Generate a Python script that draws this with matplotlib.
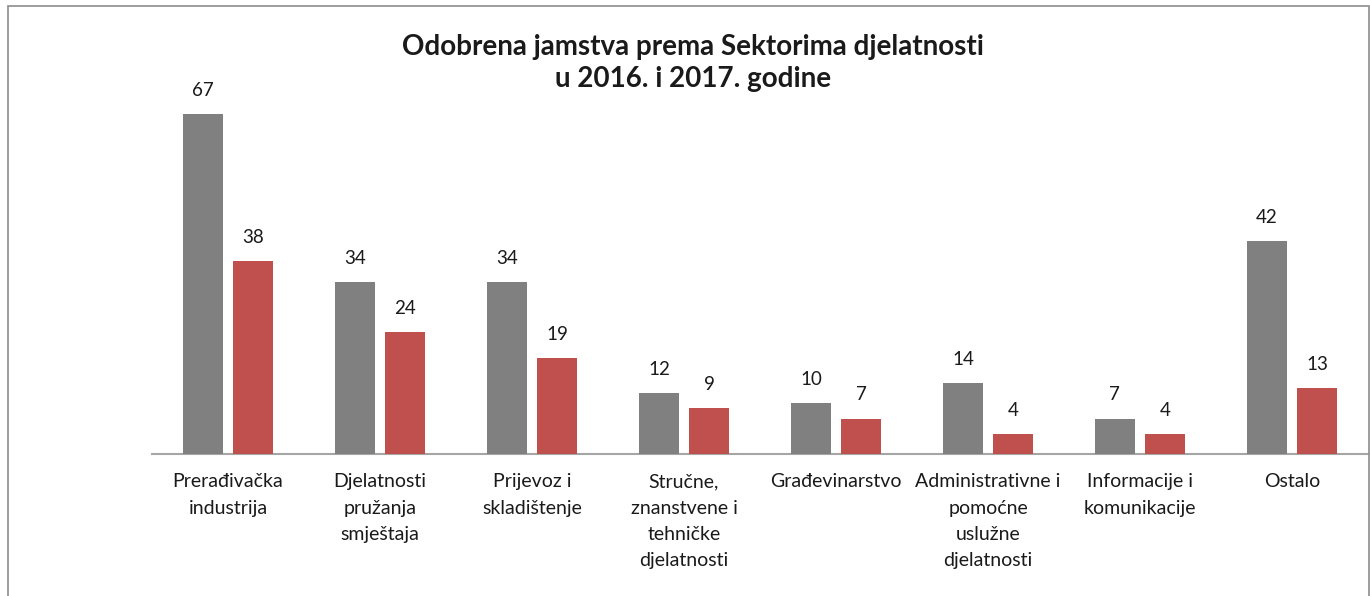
import matplotlib
matplotlib.use("Agg")
import matplotlib.pyplot as plt
import numpy as np
from matplotlib.patches import Rectangle

plt.rcParams["font.family"] = ["Lato", "DejaVu Sans"]

GREY = "#808080"
RED = "#C0504D"
AXIS = "#A6A6A6"

categories = [
    "Prerađivačka\nindustrija",
    "Djelatnosti\npružanja\nsmještaja",
    "Prijevoz i\nskladištenje",
    "Stručne,\nznanstvene i\ntehničke\ndjelatnosti",
    "Građevinarstvo",
    "Administrativne i\npomoćne\nuslužne\ndjelatnosti",
    "Informacije i\nkomunikacije",
    "Ostalo",
]
vals_2016 = [67, 34, 34, 12, 10, 14, 7, 42]
vals_2017 = [38, 24, 19, 9, 7, 4, 4, 13]

W, H = 1370, 596
fig = plt.figure(figsize=(W / 100, H / 100), dpi=100)
ymax = 80
# plot area in pixels: x 152..1368, baseline at y=454, 5.07 px per unit
ax = fig.add_axes([152 / W, (H - 454) / H, (1368 - 152) / W, ymax * 5.07 / H])

x = np.arange(len(categories))
bw = 0.265
off = 0.165
b1 = ax.bar(x - off, vals_2016, bw, color=GREY, zorder=3)
b2 = ax.bar(x + off, vals_2017, bw, color=RED, zorder=3)

for bars, vals in ((b1, vals_2016), (b2, vals_2017)):
    for b, v in zip(bars, vals):
        ax.annotate(str(v), (b.get_x() + b.get_width() / 2, v), xytext=(0, 17),
                    textcoords="offset points", ha="center", va="center",
                    fontsize=13.5, color="#1a1a1a")

ax.set_xlim(-0.5, len(categories) - 0.5)
ax.set_ylim(0, ymax)
ax.set_xticks(x)
ax.set_xticklabels(categories, fontsize=14, color="#1a1a1a", linespacing=1.65)
ax.tick_params(axis="x", length=0, pad=14)
ax.set_yticks([])
for s in ["top", "right", "left"]:
    ax.spines[s].set_visible(False)
ax.spines["bottom"].set_color(AXIS)
ax.spines["bottom"].set_linewidth(1.5)
ax.patch.set_alpha(0)

fig.text(693 / W, 1 - 47 / H, "Odobrena jamstva prema Sektorima djelatnosti",
         ha="center", va="center", fontsize=20, fontweight="bold", color="#1a1a1a")
fig.text(693 / W, 1 - 79 / H, "u 2016. i 2017. godine",
         ha="center", va="center", fontsize=20, fontweight="bold", color="#1a1a1a")

fig.patches.append(Rectangle((8 / W, -0.05), (1369 - 8) / W, (H - 6) / H + 0.05,
                             transform=fig.transFigure, fill=False,
                             edgecolor="#8c8c8c", linewidth=1.2))

fig.savefig("out.png", dpi=100)
